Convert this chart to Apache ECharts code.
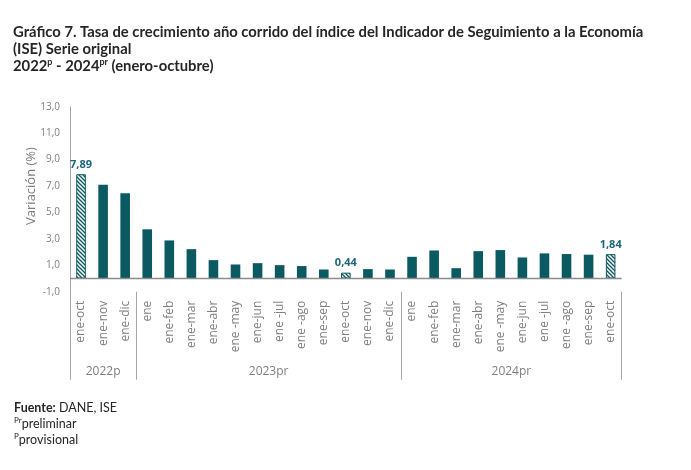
<!DOCTYPE html>
<html>
<head>
<meta charset="utf-8">
<script src="https://cdn.jsdelivr.net/npm/echarts@6/dist/echarts.min.js"></script>
<style>
  html, body { margin: 0; padding: 0; background: #fff; }
  #grafico { width: 691px; height: 470px; }
</style>
</head>
<body>
<div id="grafico"></div>
<script>
// datos del gráfico
var categorias = ['ene-oct', 'ene-nov', 'ene-dic',
  'ene', 'ene-feb', 'ene-mar', 'ene-abr', 'ene -may', 'ene-jun', 'ene -jul', 'ene -ago', 'ene-sep', 'ene-oct', 'ene-nov', 'ene-dic',
  'ene', 'ene-feb', 'ene-mar', 'ene-abr', 'ene -may', 'ene-jun', 'ene -jul', 'ene -ago', 'ene-sep', 'ene-oct'];
var variacion = [7.89, 7.10, 6.45,
  3.72, 2.88, 2.22, 1.39, 1.06, 1.16, 1.01, 0.94, 0.68, 0.44, 0.71, 0.68,
  1.64, 2.12, 0.78, 2.07, 2.15, 1.59, 1.90, 1.85, 1.80, 1.84];
// barras rayadas y con etiqueta
var destacados = [0, 12, 24];
// grupos de años (cortes en número de categorías)
var grupos = ['2022p', '2023pr', '2024pr'];
var cortesGrupo = [0, 3, 15, 25];
var centrosGrupo = [1.5, 9, 20];

var verde = '#0b5a61';
var gris = '#7f7f7f';
var letra = 'Lato';

// patrón de rayas diagonales
function rayado() {
  var c = document.createElement('canvas');
  c.width = 4; c.height = 4;
  var g = c.getContext('2d');
  g.fillStyle = '#fff';
  g.fillRect(0, 0, 4, 4);
  g.strokeStyle = verde;
  g.lineWidth = 1.3;
  g.beginPath();
  g.moveTo(-1, -1); g.lineTo(5, 5);
  g.moveTo(3, -1); g.lineTo(5, 1);
  g.moveTo(-1, 3); g.lineTo(1, 5);
  g.stroke();
  return c;
}
var patron = rayado();

var datos = variacion.map(function (v, i) {
  if (destacados.indexOf(i) < 0) return v;
  return {
    value: v,
    itemStyle: { color: { image: patron, repeat: 'repeat' }, borderColor: verde, borderWidth: 1 },
    label: { show: true }
  };
});

function coma(v, d) {
  return v.toFixed(d).replace('.', ',');
}

var grafico = echarts.init(document.getElementById('grafico'));
var option = {
  animation: false,
  title: [{
    left: 13, top: 24, padding: 0,
    text: '{b|Gráfico 7. Tasa de crecimiento año corrido del índice del Indicador de Seguimiento a la Economía}\n' +
      '{b|(ISE) Serie original}\n' +
      '{b|2022}{s|p}{b| - 2024}{s|pr}{b| (enero-octubre)}',
    textStyle: {
      lineHeight: 17,
      rich: {
        b: { fontFamily: letra, fontWeight: 'bold', fontSize: 14.8, color: '#262626', lineHeight: 17 },
        s: { fontFamily: letra, fontWeight: 'bold', fontSize: 9, color: '#262626', lineHeight: 10, verticalAlign: 'top' }
      }
    }
  }, {
    left: 14, top: 400, padding: 0,
    text: '{b|Fuente:}{n| DANE, ISE}\n{s|Pr}{n|preliminar}\n{s|P}{n|provisional}',
    textStyle: {
      lineHeight: 16, fontWeight: 'normal',
      rich: {
        b: { fontFamily: letra, fontWeight: 'bold', fontSize: 12.5, color: '#262626', lineHeight: 16 },
        n: { fontFamily: letra, fontWeight: 'normal', fontSize: 12.5, color: '#262626', lineHeight: 16 },
        s: { fontFamily: letra, fontWeight: 'normal', fontSize: 8, color: '#262626', lineHeight: 9, verticalAlign: 'top' }
      }
    }
  }],
  // título del eje Y
  graphic: [{
    type: 'text',
    x: 31.5, y: 186,
    rotation: Math.PI / 2,
    style: {
      text: 'Variación (%)',
      align: 'center', verticalAlign: 'middle',
      fill: gris, fontFamily: 'Open Sans', fontSize: 13
    }
  }],
  grid: { left: 70, right: 69.3, top: 106.7, bottom: 178.3, containLabel: false },
  xAxis: [{
    type: 'category',
    data: categorias,
    position: 'bottom',
    axisLine: { show: false, onZero: false },
    axisTick: { show: false },
    axisLabel: {
      interval: 0, rotate: 90, margin: 9,
      color: gris, fontFamily: 'Open Sans', fontSize: 12
    }
  }, {
    type: 'value',
    min: 0, max: 25,
    position: 'bottom',
    axisLine: { show: false, onZero: false },
    splitLine: { show: false },
    axisTick: {
      show: true, length: 88, customValues: cortesGrupo,
      lineStyle: { color: '#a6a6a6', width: 1 }
    },
    axisLabel: {
      show: true, margin: 74, customValues: centrosGrupo,
      color: gris, fontFamily: 'Open Sans', fontSize: 12,
      formatter: function (v) { return grupos[centrosGrupo.indexOf(v)] || ''; }
    }
  }],
  yAxis: {
    type: 'value',
    min: -1, max: 13, interval: 2,
    axisLine: { show: true, lineStyle: { color: '#a6a6a6', width: 1 } },
    axisTick: { show: false },
    splitLine: { show: false },
    axisLabel: {
      margin: 10, color: gris, fontFamily: 'Open Sans', fontSize: 10,
      formatter: function (v) { return coma(v, 1); }
    }
  },
  series: [{
    type: 'bar',
    data: datos,
    barWidth: 9.6,
    itemStyle: { color: verde },
    label: {
      show: false, position: 'top', distance: 4,
      color: '#1b6679', fontFamily: 'Open Sans', fontWeight: 'bold', fontSize: 11,
      formatter: function (p) { return coma(p.value, 2); }
    },
    markLine: {
      silent: true,
      symbol: ['none', 'none'],
      label: { show: false },
      lineStyle: { color: '#8c8c8c', width: 1.3, type: 'solid' },
      data: [{ yAxis: 0 }]
    }
  }]
};
grafico.setOption(option);
</script>
</body>
</html>
